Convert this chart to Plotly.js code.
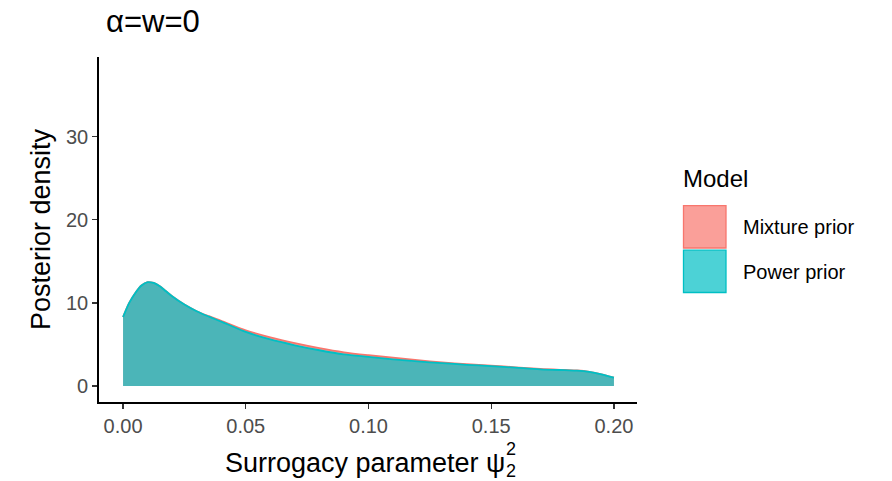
<!DOCTYPE html>
<html>
<head>
<meta charset="utf-8">
<script src="https://cdn.plot.ly/plotly-3.0.1.min.js"></script>
<style>html,body{margin:0;padding:0;background:#fff}#chart{width:892px;height:481px}</style>
</head>
<body>
<div id="chart"></div>
<script>
const psi = [0.000,0.0025,0.005,0.0075,0.010,0.0125,0.015,0.0175,0.020,0.025,0.030,0.035,0.040,0.050,0.060,0.070,0.080,0.090,0.100,0.110,0.120,0.130,0.140,0.150,0.160,0.170,0.180,0.185,0.190,0.195,0.200];
const powerPrior = [8.3,10.0,11.2,12.1,12.5,12.4,12.0,11.4,10.8,9.8,9.0,8.35,7.75,6.5,5.6,4.9,4.3,3.8,3.5,3.2,2.95,2.75,2.55,2.4,2.2,2.0,1.9,1.85,1.7,1.4,1.0];
const mixturePrior = [8.3,10.0,11.2,12.1,12.5,12.4,12.0,11.4,10.8,9.8,9.0,8.4,7.85,6.7,5.85,5.15,4.55,4.05,3.7,3.4,3.1,2.85,2.62,2.45,2.25,2.05,1.92,1.86,1.7,1.4,1.0];
const seriesNames = ["Mixture prior","Power prior"];
const xTicks = [0,0.05,0.10,0.15,0.20];
const xTickText = ["0.00","0.05","0.10","0.15","0.20"];
const yTicks = [0,10,20,30];
const xTitle = "Surrogacy parameter ψ";
const xTitleSup = "2";
const xTitleSub = "2";

const fills = ['rgba(248,118,109,0.7)','rgba(0,191,196,0.7)'];
const lines = ['#F8766D','#00BFC4'];

const traces = [
  {x: psi, y: mixturePrior, name: seriesNames[0], type:'scatter', mode:'lines', fill:'tozeroy',
   fillcolor:fills[0], line:{color:lines[0], width:1.8, shape:'spline', smoothing:0.8}},
  {x: psi, y: powerPrior, name: seriesNames[1], type:'scatter', mode:'lines', fill:'tozeroy',
   fillcolor:fills[1], line:{color:lines[1], width:1.8, shape:'spline', smoothing:0.8}}
];

const M = {l:99, r:255, t:57, b:79};
const W = 892, H = 481;
const pw = W - M.l - M.r, ph = H - M.t - M.b;
const px = v => (v - M.l) / pw;
const py = v => (H - M.b - v) / ph;

const FONT = '"Liberation Sans", Arial, Helvetica, sans-serif';
const XT_SIZE = 27;

const cv = document.createElement('canvas').getContext('2d');
cv.font = XT_SIZE + 'px "Liberation Sans", Arial, sans-serif';
const xtW = cv.measureText(xTitle).width;
const xtCenter = 365;

const shapes = [];
const annotations = [
  {text:'Model', xref:'paper', yref:'paper', x:px(681), y:py(178), xanchor:'left', yanchor:'middle',
   showarrow:false, font:{size:24, color:'#000', family:FONT}},
  {text:xTitle, xref:'paper', yref:'paper', x:px(xtCenter), y:py(463), xanchor:'center', yanchor:'middle',
   showarrow:false, font:{size:XT_SIZE, color:'#000', family:FONT}},
  {text:xTitleSup, xref:'paper', yref:'paper', x:px(xtCenter + xtW/2 - 1), y:py(449), xanchor:'left', yanchor:'middle',
   showarrow:false, font:{size:18, color:'#000', family:FONT}},
  {text:xTitleSub, xref:'paper', yref:'paper', x:px(xtCenter + xtW/2 - 1), y:py(471), xanchor:'left', yanchor:'middle',
   showarrow:false, font:{size:18, color:'#000', family:FONT}}
];
seriesNames.forEach((n,i) => {
  const top = 205 + i*44.5;
  shapes.push({type:'rect', xref:'paper', yref:'paper', x0:px(683.5), x1:px(726), y0:py(top+43), y1:py(top+0.7),
    fillcolor:fills[i], line:{color:lines[i], width:1.3}});
  annotations.push({text:n, xref:'paper', yref:'paper', x:px(741), y:py(top+22), xanchor:'left', yanchor:'middle',
    showarrow:false, font:{size:20, color:'#000', family:FONT}});
});

const layout = {
  width: W, height: H,
  paper_bgcolor:'#fff', plot_bgcolor:'#fff',
  margin:M,
  font:{family:FONT, color:'#000'},
  title:{text:'α=w=0', x:px(106), xref:'paper', xanchor:'left', y:1-21/H, yanchor:'middle', yref:'container',
         font:{size:31, color:'#000', family:FONT}},
  xaxis:{range:[-0.0098,0.2094], tickvals:xTicks, ticktext:xTickText, showgrid:false, zeroline:false,
         showline:true, linecolor:'#000', linewidth:1.8, ticks:'outside', ticklen:5, tickwidth:1.3, tickcolor:'#333',
         tickfont:{size:20, color:'#4D4D4D', family:FONT}},
  yaxis:{range:[-1.93,39.6], tickvals:yTicks, showgrid:false, zeroline:false,
         showline:true, linecolor:'#000', linewidth:1.8, ticks:'outside', ticklen:5, tickwidth:1.3, tickcolor:'#333',
         tickfont:{size:20, color:'#4D4D4D', family:FONT},
         title:{text:'Posterior density', font:{size:27, color:'#000', family:FONT}, standoff:7}},
  showlegend:false,
  shapes:shapes,
  annotations:annotations
};

Plotly.newPlot('chart', traces, layout, {displayModeBar:false, staticPlot:true});
</script>
</body>
</html>
